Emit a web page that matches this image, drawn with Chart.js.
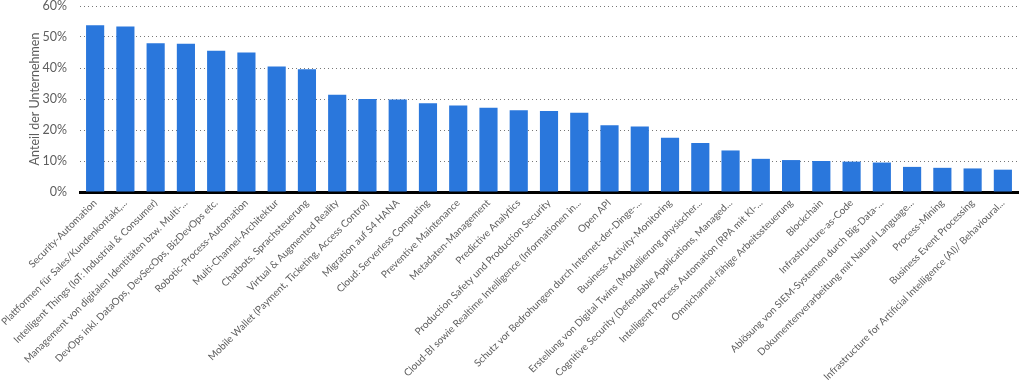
<!DOCTYPE html>
<html>
<head>
<meta charset="utf-8">
<script src="https://cdn.jsdelivr.net/npm/chart.js@4"></script>
<style>
  html, body { margin: 0; padding: 0; background: #fff; }
  #wrap { width: 1024px; height: 381px; }
</style>
</head>
<body>
<div id="wrap"><canvas id="chart"></canvas></div>
<script>
const categories = [
    'Security-Automation',
    'Plattformen für Sales/Kundenkontakt,...',
    'Intelligent Things (IoT: Industrial & Consumer)',
    'Management von digitalen Identitäten bzw. Multi-...',
    'DevOps inkl. DataOps, DevSecOps, BizDevOps etc.',
    'Robotic-Process-Automation',
    'Multi-Channel-Architektur',
    'Chatbots, Sprachsteuerung',
    'Virtual & Augmented Reality',
    'Mobile Wallet (Payment, Ticketing, Access Control)',
    'Migration auf S4 HANA',
    'Cloud: Serverless Computing',
    'Preventive Maintenance',
    'Metadaten-Management',
    'Predictive Analytics',
    'Production Safety und Production Security',
    'Cloud-BI sowie Realtime Intelligence (Informationen in...',
    'Open API',
    'Schutz vor Bedrohungen durch Internet-der-Dinge-...',
    'Business-Activity-Monitoring',
    'Erstellung von Digital Twins (Modellierung physischer...',
    'Cognitive Security (Defendable Applications, Managed...',
    'Intelligent Process Automation (RPA mit KI-...',
    'Omnichannel-fähige Arbeitssteuerung',
    'Blockchain',
    'Infrastructure-as-Code',
    'Ablösung von SIEM-Systemen durch Big-Data-...',
    'Dokumentenverarbeitung mit Natural Language...',
    'Process-Mining',
    'Business Event Processing',
    'Infrastructure for Artificial Intelligence (AI)/ Behavioural...'
];

// Anteil in Prozent
const shares = [
    53.8, 53.4, 48.0, 47.8, 45.6, 45.0, 40.5, 39.6, 31.4, 30.0, 29.8,
    28.6, 27.9, 27.2, 26.4, 26.1, 25.6, 21.5, 21.1, 17.5, 15.8, 13.4,
    10.7, 10.3, 10.0, 9.8, 9.5, 8.1, 7.8, 7.6, 7.2
];

const yTicks = [0, 10, 20, 30, 40, 50, 60];

const textColor = '#5e5e5e';
const fontFamily = 'Lato, "Open Sans", sans-serif';

const ctx = document.getElementById('chart').getContext('2d');
new Chart(ctx, {
    type: 'bar',
    data: {
        labels: categories,
        datasets: [{
            label: 'Anteil der Unternehmen',
            data: shares,
            backgroundColor: '#2a77dc',
            borderWidth: 0,
            categoryPercentage: 1.0,
            barPercentage: 0.6
        }]
    },
    options: {
        responsive: true,
        maintainAspectRatio: false,
        animation: false,
        layout: { padding: { top: 6, right: 6, left: 2, bottom: 0 } },
        plugins: {
            legend: { display: false },
            tooltip: { enabled: false }
        },
        scales: {
            x: {
                afterFit: scale => {
                    scale.height = 189;
                    scale.paddingTop = 0;
                    scale.paddingBottom = 0;
                },
                grid: { display: false, drawTicks: false },
                border: { display: true, color: '#000', width: 3 },
                ticks: {
                    color: textColor,
                    font: { family: fontFamily, size: 10 },
                    maxRotation: 45,
                    minRotation: 45,
                    autoSkip: false,
                    padding: 5
                }
            },
            y: {
                min: 0,
                max: 60,
                afterBuildTicks: axis => {
                    axis.ticks = yTicks.map(v => ({ value: v }));
                },
                afterFit: scale => {
                    scale.width = 78;
                    scale.paddingTop = 0;
                    scale.paddingBottom = 0;
                },
                grid: {
                    color: '#777',
                    lineWidth: 1,
                    drawTicks: false
                },
                border: { display: false, dash: [1, 3] },
                ticks: {
                    color: textColor,
                    font: { family: fontFamily, size: 12.5 },
                    padding: 13,
                    callback: v => v + '%'
                },
                title: {
                    display: true,
                    text: 'Anteil der Unternehmen',
                    color: textColor,
                    font: { family: fontFamily, size: 12.5 },
                    padding: { top: 25, bottom: 0 }
                }
            }
        }
    }
});
</script>
</body>
</html>
